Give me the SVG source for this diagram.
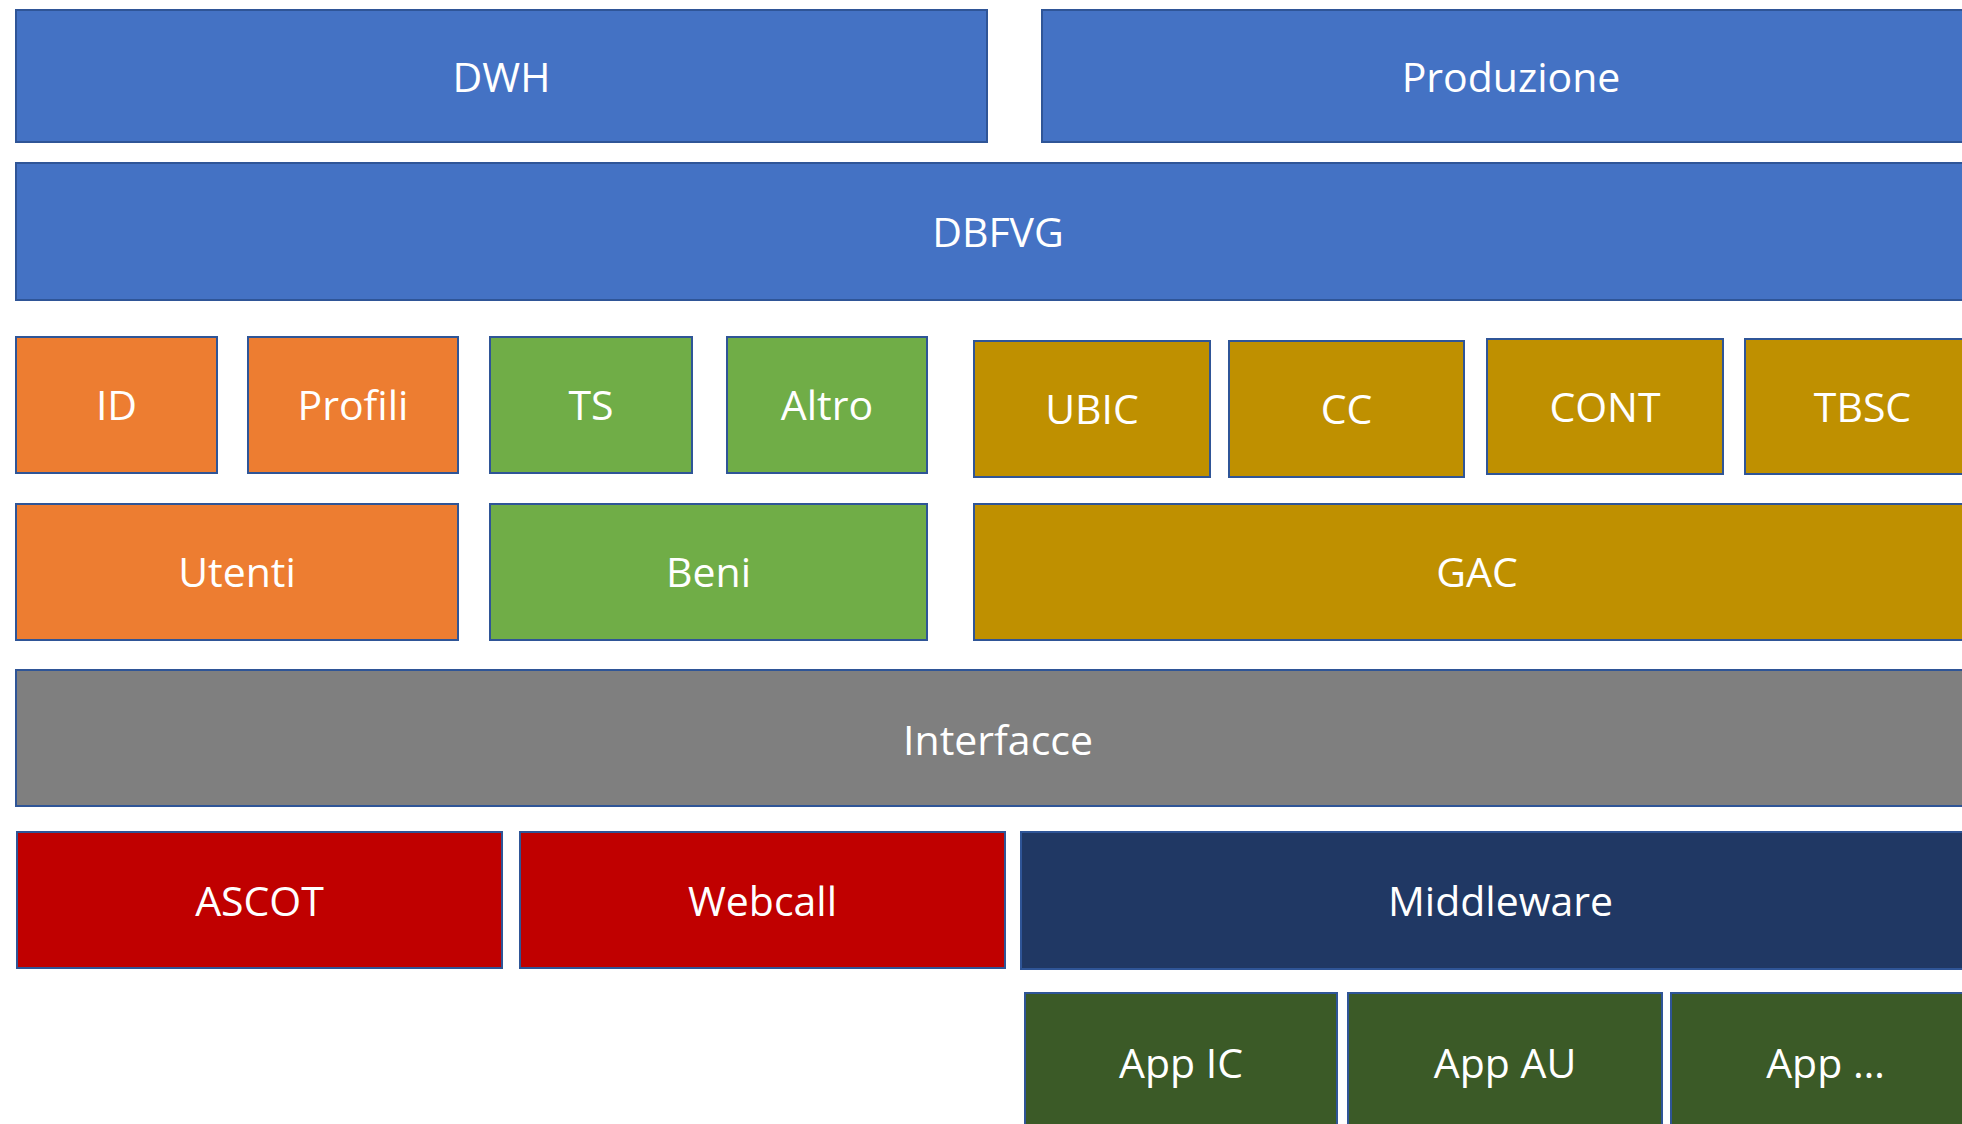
<svg xmlns="http://www.w3.org/2000/svg" width="1962" height="1124" viewBox="0 0 1962 1124">
<style>
rect{stroke:#2F5597;stroke-width:2}
text{font-family:"Open Sans","Liberation Sans",sans-serif;font-size:41px;fill:#fff;text-anchor:middle}
.blue{fill:#4472C4}.orange{fill:#ED7D31}.green{fill:#70AD47}.gold{fill:#BF9000}
.gray{fill:#7F7F7F}.red{fill:#C00000}.navy{fill:#203864}.dgreen{fill:#3B5A27}
</style>
<rect width="1962" height="1124" fill="#fff" style="stroke:none"/>
<g id="nodes">
<g id="dwh"><rect class="blue" x="16" y="10" width="971" height="132"/><text x="501.5" y="92">DWH</text></g>
<g id="produzione"><rect class="blue" x="1042" y="10" width="938" height="132"/><text x="1511" y="92">Produzione</text></g>
<g id="dbfvg"><rect class="blue" x="16" y="163" width="1964" height="137"/><text x="998" y="247">DBFVG</text></g>
<g id="id"><rect class="orange" x="16" y="337" width="201" height="136"/><text x="116.5" y="420">ID</text></g>
<g id="profili"><rect class="orange" x="248" y="337" width="210" height="136"/><text x="353" y="420">Profili</text></g>
<g id="ts"><rect class="green" x="490" y="337" width="202" height="136"/><text x="591" y="420">TS</text></g>
<g id="altro"><rect class="green" x="727" y="337" width="200" height="136"/><text x="827" y="420">Altro</text></g>
<g id="ubic"><rect class="gold" x="974" y="341" width="236" height="136"/><text x="1092" y="424">UBIC</text></g>
<g id="cc"><rect class="gold" x="1229" y="341" width="235" height="136"/><text x="1346.5" y="424">CC</text></g>
<g id="cont"><rect class="gold" x="1487" y="339" width="236" height="135"/><text x="1605" y="422">CONT</text></g>
<g id="tbsc"><rect class="gold" x="1745" y="339" width="235" height="135"/><text x="1862.5" y="422">TBSC</text></g>
<g id="utenti"><rect class="orange" x="16" y="504" width="442" height="136"/><text x="237" y="587">Utenti</text></g>
<g id="beni"><rect class="green" x="490" y="504" width="437" height="136"/><text x="708.5" y="587">Beni</text></g>
<g id="gac"><rect class="gold" x="974" y="504" width="1006" height="136"/><text x="1477" y="587">GAC</text></g>
<g id="interfacce"><rect class="gray" x="16" y="670" width="1964" height="136"/><text x="998" y="755">Interfacce</text></g>
<g id="ascot"><rect class="red" x="17" y="832" width="485" height="136"/><text x="259.5" y="916">ASCOT</text></g>
<g id="webcall"><rect class="red" x="520" y="832" width="485" height="136"/><text x="762.5" y="916">Webcall</text></g>
<g id="middleware"><rect class="navy" x="1021" y="832" width="959" height="137"/><text x="1500.5" y="916">Middleware</text></g>
<g id="appic"><rect class="dgreen" x="1025" y="993" width="312" height="140"/><text x="1181" y="1078">App IC</text></g>
<g id="appau"><rect class="dgreen" x="1348" y="993" width="314" height="140"/><text x="1505" y="1078">App AU</text></g>
<g id="appother"><rect class="dgreen" x="1671" y="993" width="309" height="140"/><text x="1825.5" y="1078">App …</text></g>
</g>
<g id="connectors"></g>
</svg>
